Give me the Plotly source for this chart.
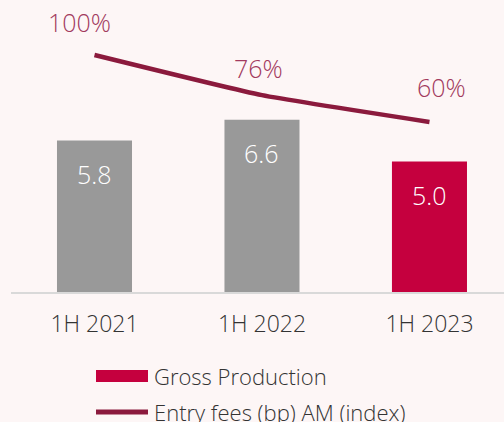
import plotly.graph_objects as go

# ── data ──
periods = ["1H 2021", "1H 2022", "1H 2023"]
gross_production = [5.8, 6.6, 5.0]
entry_fees_index = [100, 76, 60]
entry_fees_labels = ["100%", "76%", "60%"]

# ── style ──
GRAY = "#999999"
RED = "#c5003e"
WINE = "#8b1a3d"
WINE_TEXT = "#a23a5e"
BG = "#fdf6f6"
TEXT = "#333333"
FONT = "Open Sans"

W, H = 504, 422
L, T, B = 11, 0, 130
PW, PH = W - L, H - T - B


def px(x):
    return (x - L) / PW


def py(y):
    return (PH + T - y) / PH


fig = go.Figure()

fig.add_trace(go.Bar(
    x=periods, y=gross_production,
    marker=dict(color=[GRAY, GRAY, RED], line=dict(width=0)),
    width=0.448,
    hoverinfo="skip",
    name="Gross Production",
))

fig.add_trace(go.Scatter(
    x=periods, y=entry_fees_index,
    mode="lines",
    line=dict(color=WINE, width=4.5, shape="spline", smoothing=0.4),
    yaxis="y2",
    hoverinfo="skip",
    name="Entry fees (bp) AM (index)",
))

# bar value labels (inside, near top)
for p, v in zip(periods, gross_production):
    fig.add_annotation(
        x=p, y=v, yref="y", text=f"{v:.1f}", showarrow=False,
        yshift=-33, font=dict(family=FONT, size=25, color="white", weight=300),
    )

# line value labels
label_shifts = [(-15, 33), (-3, 27), (12, 35)]
for p, v, t, (dx, dy) in zip(periods, entry_fees_index, entry_fees_labels, label_shifts):
    fig.add_annotation(
        x=p, y=v, yref="y2", text=t, showarrow=False,
        xshift=dx, yshift=dy,
        font=dict(family=FONT, size=25, color=WINE_TEXT, weight=300),
    )

# manual legend (wide swatches like the source)
fig.add_shape(type="rect", xref="paper", yref="paper",
              x0=px(96), x1=px(148), y0=py(382), y1=py(370),
              fillcolor=RED, line=dict(width=0))
fig.add_shape(type="line", xref="paper", yref="paper",
              x0=px(96), x1=px(148), y0=py(412), y1=py(412),
              line=dict(color=WINE, width=5))
fig.add_annotation(xref="paper", yref="paper", x=px(152), y=py(376),
                   xanchor="left", yanchor="middle", showarrow=False,
                   text="Gross Production",
                   font=dict(family=FONT, size=22, color=TEXT, weight=300))
fig.add_annotation(xref="paper", yref="paper", x=px(152), y=py(412),
                   xanchor="left", yanchor="middle", showarrow=False,
                   text="Entry fees (bp) AM (index)",
                   font=dict(family=FONT, size=22, color=TEXT, weight=300))

fig.update_layout(
    width=W, height=H,
    margin=dict(l=L, r=0, t=T, b=B),
    paper_bgcolor=BG, plot_bgcolor=BG,
    showlegend=False,
    font=dict(family=FONT),
    xaxis=dict(
        range=[-0.4985, 2.445], showgrid=False, zeroline=False,
        showline=True, linecolor="#d9d9d9", linewidth=1.5,
        ticks="", ticklabelstandoff=11,
        tickfont=dict(family=FONT, size=23, color=TEXT, weight=300),
    ),
    yaxis=dict(range=[0, PH / 26.1], visible=False),
    yaxis2=dict(range=[-41.5, 132.8], overlaying="y", visible=False),
)

fig.write_html(
    "out.html",
    config={"displayModeBar": False},
    post_script="document.body.style.margin='0';"
                "document.body.style.background='#fdf6f6';",
)
